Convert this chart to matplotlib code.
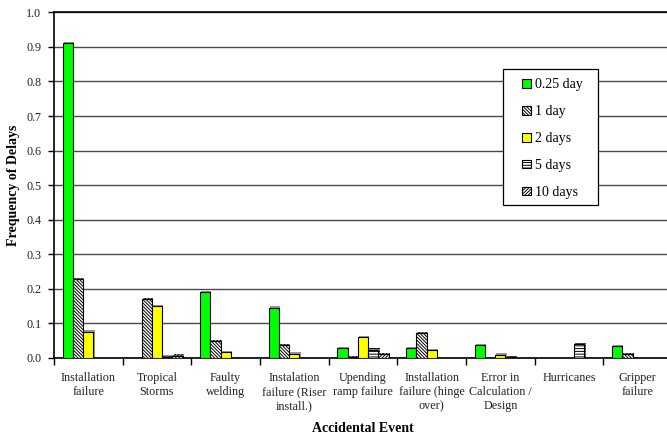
import matplotlib
matplotlib.use("Agg")
import matplotlib.pyplot as plt
import matplotlib.patheffects as pe
from matplotlib.patches import Rectangle
import numpy as np

# Delay frequency per accidental event and delay duration
events = [
    "Installation\nfailure",
    "Tropical\nStorms",
    "Faulty\nwelding",
    "Instalation\nfailure (Riser\ninstall.)",
    "Upending\nramp failure",
    "Installation\nfailure (hinge\nover)",
    "Error in\nCalculation /\nDesign",
    "Hurricanes",
    "Gripper\nfailure",
]
durations = ["0.25 day", "1 day", "2 days", "5 days", "10 days"]

freq_025_day = [0.910, 0.000, 0.191, 0.146, 0.029, 0.028, 0.037, 0.000, 0.034]
freq_1_day = [0.228, 0.170, 0.048, 0.037, 0.003, 0.073, 0.000, 0.000, 0.012]
freq_2_days = [0.076, 0.151, 0.017, 0.013, 0.061, 0.022, 0.010, 0.000, 0.000]
freq_5_days = [0.000, 0.004, 0.000, 0.000, 0.024, 0.000, 0.003, 0.040, 0.000]
freq_10_days = [0.000, 0.007, 0.000, 0.000, 0.012, 0.000, 0.000, 0.000, 0.000]

series = [freq_025_day, freq_1_day, freq_2_days, freq_5_days, freq_10_days]
faces = ["#00FF00", "white", "#FFFF00", "white", "white"]
hatches = [None, "\\" * 10, None, "-" * 6, "/" * 10]

plt.rcParams["font.family"] = ["Liberation Serif", "DejaVu Serif"]
plt.rcParams["hatch.linewidth"] = 0.7
plt.rcParams["hatch.color"] = "black"

W, H = 667, 436
fig = plt.figure(figsize=(W / 100, H / 100), dpi=100)
ax = fig.add_axes([54 / W, 1 - 358 / H, (672 - 54) / W, (358 - 12.3) / H])

n = len(events)
x = np.arange(n) + 0.5
width = 0.15
shadow = [pe.SimplePatchShadow(offset=(0.9, 0.9), shadow_rgbFace="#7a7a7a", alpha=0.8),
          pe.Normal()]

handles = []
for k, (vals, fc, h) in enumerate(zip(series, faces, hatches)):
    bars = ax.bar(x + (k - 2) * width, vals, width, color=fc, edgecolor="black",
                  linewidth=0.8, hatch=h, label=durations[k], zorder=3)
    for b in bars:
        b.set_path_effects(shadow)
    handles.append(bars)

ax.set_xlim(0, n)
ax.set_ylim(0, 1.0)
ax.set_yticks(np.arange(0, 1.01, 0.1))
ax.set_yticklabels([f"{v:.1f}" for v in np.arange(0, 1.01, 0.1)])
ax.yaxis.grid(True, color="#4a4a4a", linewidth=1.0, zorder=0)
ax.set_axisbelow(True)

ax.set_xticks(x)
ax.set_xticklabels(events, linespacing=1.22)
ax.set_xticks(np.arange(0, n + 1), minor=True)
ax.tick_params(axis="x", which="major", length=0, pad=10, labelsize=8.7, colors="#222222")
ax.tick_params(axis="x", which="minor", length=5, width=1.0, direction="out", color="black")
ax.tick_params(axis="y", which="major", length=4, width=1.0, direction="out",
               pad=5, labelsize=8.7, labelcolor="#222222")

for side in ["left", "bottom", "top"]:
    ax.spines[side].set_color("black")
    ax.spines[side].set_linewidth(1.2)
ax.spines["right"].set_visible(False)

fig.text(363 / W, 1 - 428 / H, "Accidental Event", ha="center", va="center",
         fontsize=10, fontweight="bold")
fig.text(14 / W, 1 - 185 / H, "Frequency of Delays", ha="center", va="center",
         rotation=90, fontsize=10, fontweight="bold")

# Legend box drawn separately so its padding can be wider than tall
box = Rectangle((503.3 / W, 1 - 205.3 / H), 95 / W, 136.3 / H,
                transform=fig.transFigure, facecolor="white", edgecolor="black",
                linewidth=0.9, zorder=4.5)
ax.add_artist(box)

leg = ax.legend(handles=handles, loc="upper left",
                bbox_to_anchor=(519.5 / W, 1 - 75.5 / H), bbox_transform=fig.transFigure,
                fontsize=10, frameon=False,
                handlelength=0.65, handleheight=0.6, handletextpad=0.3,
                labelspacing=1.0, borderpad=0.2, borderaxespad=0)
leg.set_zorder(5)
for h in leg.legend_handles:
    h.set_path_effects([])

fig.savefig("out.png", dpi=100)
